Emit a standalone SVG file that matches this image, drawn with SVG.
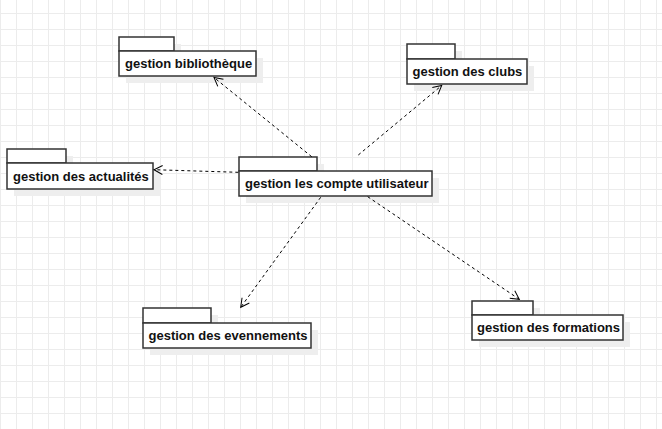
<svg xmlns="http://www.w3.org/2000/svg" width="662" height="429" viewBox="0 0 662 429">
  <defs>
    <pattern id="grid" x="0" y="13" width="16" height="16" patternUnits="userSpaceOnUse">
      <path d="M0,0.5 H16 M0.5,0 V16" fill="none" stroke="#ececec" stroke-width="1"/>
    </pattern>
    <marker id="open" markerWidth="12" markerHeight="12" refX="10" refY="6" orient="auto" markerUnits="userSpaceOnUse">
      <path d="M1.5,1.5 L10,6 L1.5,10.5" fill="none" stroke="#000" stroke-width="1"/>
    </marker>
  </defs>
  <style>
    .shadow { fill: #eeeeee; stroke: none; }
    .box { fill: #ffffff; stroke: #333333; stroke-width: 1.5; }
    .label { font-family: "Liberation Sans", Arial, sans-serif; font-weight: bold; font-size: 13px; fill: #111111; }
    .edge { fill: none; stroke: #000000; stroke-width: 1; stroke-dasharray: 3 3; marker-end: url(#open); }
  </style>
  <rect x="0" y="0" width="662" height="429" fill="#ffffff"/>
  <rect x="0" y="0" width="662" height="429" fill="url(#grid)"/>

  <g id="node-bibliotheque">
    <rect class="shadow" x="126" y="44" width="55" height="14"/>
    <rect class="shadow" x="126" y="58" width="137" height="25"/>
    <rect class="box" x="119" y="37" width="55" height="14"/>
    <rect class="box" x="119" y="51" width="137" height="25"/>
    <text class="label" x="125" y="68">gestion bibliothèque</text>
  </g>

  <g id="node-clubs">
    <rect class="shadow" x="414" y="51" width="48" height="15"/>
    <rect class="shadow" x="414" y="66" width="120" height="25"/>
    <rect class="box" x="407" y="44" width="48" height="15"/>
    <rect class="box" x="407" y="59" width="120" height="25"/>
    <text class="label" x="412.5" y="76">gestion des clubs</text>
  </g>

  <g id="node-actualites">
    <rect class="shadow" x="14" y="156" width="59" height="14"/>
    <rect class="shadow" x="14" y="170" width="146" height="26"/>
    <rect class="box" x="7" y="149" width="59" height="14"/>
    <rect class="box" x="7" y="163" width="146" height="26"/>
    <text class="label" x="13" y="181">gestion des actualités</text>
  </g>

  <g id="node-compte">
    <rect class="shadow" x="246" y="164" width="78" height="14"/>
    <rect class="shadow" x="246" y="178" width="193" height="25"/>
    <rect class="box" x="239" y="157" width="78" height="14"/>
    <rect class="box" x="239" y="171" width="193" height="25"/>
    <text class="label" x="245" y="188">gestion les compte utilisateur</text>
  </g>

  <g id="node-evennements">
    <rect class="shadow" x="150" y="315" width="68" height="15"/>
    <rect class="shadow" x="150" y="330" width="168" height="25"/>
    <rect class="box" x="143" y="308" width="68" height="15"/>
    <rect class="box" x="143" y="323" width="168" height="25"/>
    <text class="label" x="148.5" y="340">gestion des evennements</text>
  </g>

  <g id="node-formations">
    <rect class="shadow" x="479" y="308" width="61" height="14"/>
    <rect class="shadow" x="479" y="322" width="151" height="25"/>
    <rect class="box" x="472" y="301" width="61" height="14"/>
    <rect class="box" x="472" y="315" width="151" height="25"/>
    <text class="label" x="477" y="332">gestion des formations</text>
  </g>

  <g id="connectors">
    <line class="edge" x1="311.7" y1="156.7" x2="214" y2="77.5"/>
    <line class="edge" x1="358.3" y1="155" x2="441.7" y2="85.5"/>
    <line class="edge" x1="238.3" y1="172.3" x2="154" y2="169.7"/>
    <line class="edge" x1="320.7" y1="197.3" x2="240.7" y2="307.3"/>
    <line class="edge" x1="367.7" y1="196.7" x2="519.3" y2="299.3"/>
  </g>
</svg>
